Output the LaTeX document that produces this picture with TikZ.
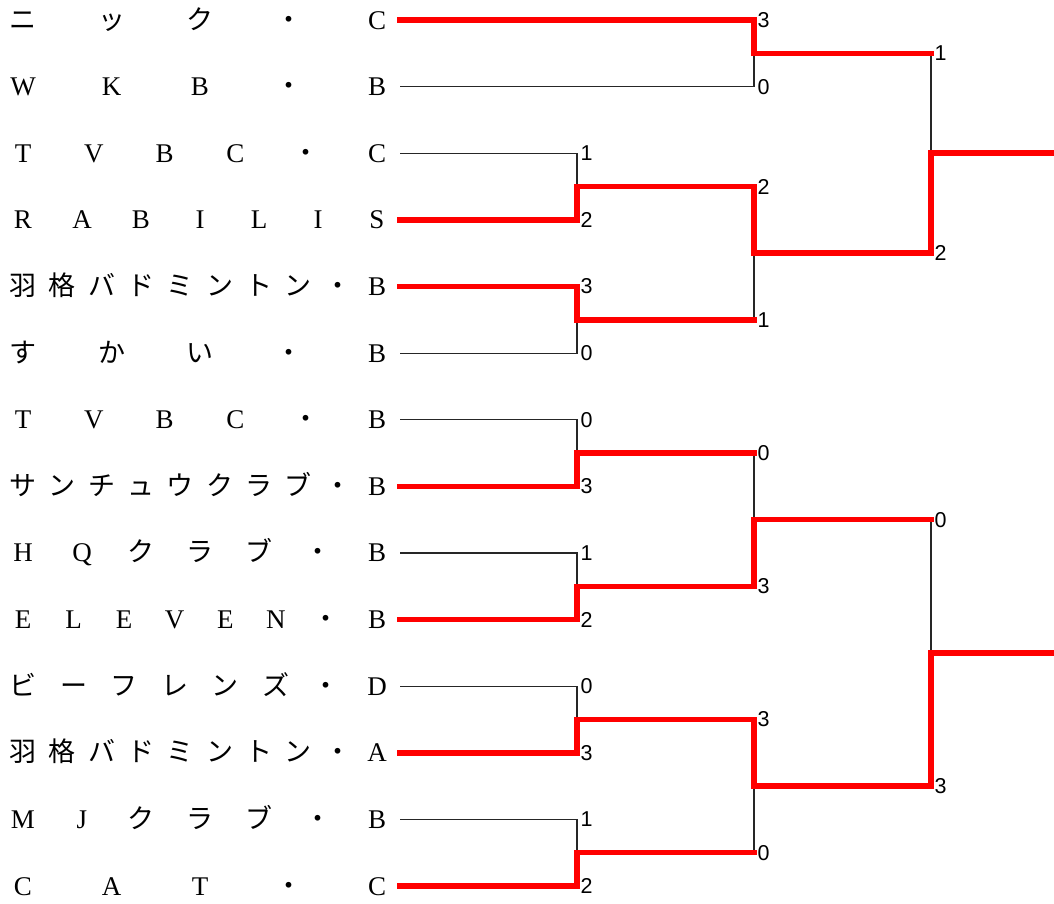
\documentclass[tikz,border=0pt]{standalone}
\usepackage{fontspec}
\setmainfont{Liberation Serif}
\setsansfont{Liberation Sans}
\newfontfamily\cjk{Noto Sans CJK JP}
\newcommand\J[1]{{\cjk #1}}
\tikzset{
  namechar/.style={anchor=base, inner sep=0pt, font=\fontsize{27}{27}\selectfont},
  score/.style={anchor=west, inner sep=1pt, xshift=2.5pt, font=\sffamily\fontsize{21.5}{21.5}\selectfont},
  win/.style={draw=red, line width=5.5pt, line cap=rect, line join=miter},
  lose/.style={draw=black!85, line width=1.1pt},
}
\newcommand\teamname[3]{%
  \foreach \c [count=\k from 0] in {#3}{
    \node[namechar] (n#1c\k) at ({23+\k*354/(#2-1)}, {29+66.62*#1}) {\c};
  }%
}
\begin{document}
\begin{tikzpicture}[x=1pt,y=-1pt]
\useasboundingbox (0,0) rectangle (1054,903);
% team names
\teamname{0}{5}{\J{ニ},\J{ッ},\J{ク},\J{・},C}
\teamname{1}{5}{W,K,B,\J{・},B}
\teamname{2}{6}{T,V,B,C,\J{・},C}
\teamname{3}{7}{R,A,B,I,L,I,S}
\teamname{4}{10}{\J{羽},\J{格},\J{バ},\J{ド},\J{ミ},\J{ン},\J{ト},\J{ン},\J{・},B}
\teamname{5}{5}{\J{す},\J{か},\J{い},\J{・},B}
\teamname{6}{6}{T,V,B,C,\J{・},B}
\teamname{7}{10}{\J{サ},\J{ン},\J{チ},\J{ュ},\J{ウ},\J{ク},\J{ラ},\J{ブ},\J{・},B}
\teamname{8}{7}{H,Q,\J{ク},\J{ラ},\J{ブ},\J{・},B}
\teamname{9}{8}{E,L,E,V,E,N,\J{・},B}
\teamname{10}{8}{\J{ビ},\J{ー},\J{フ},\J{レ},\J{ン},\J{ズ},\J{・},D}
\teamname{11}{10}{\J{羽},\J{格},\J{バ},\J{ド},\J{ミ},\J{ン},\J{ト},\J{ン},\J{・},A}
\teamname{12}{7}{M,J,\J{ク},\J{ラ},\J{ブ},\J{・},B}
\teamname{13}{5}{C,A,T,\J{・},C}
% line starts
\foreach \i in {0,...,13}{ \coordinate (L\i) at (400,{20+66.62*\i}); }
% match points
\coordinate (m01) at (754,53.3);
\coordinate (m23) at (577,186.6);
\coordinate (m45) at (577,319.8);
\coordinate (m67) at (577,453.0);
\coordinate (m89) at (577,586.3);
\coordinate (mAB) at (577,719.5);
\coordinate (mCD) at (577,852.7);
\coordinate (n1) at (754,253.2);
\coordinate (n2) at (754,519.7);
\coordinate (n3) at (754,786.1);
\coordinate (f1) at (931,153.2);
\coordinate (f2) at (931,652.9);
\coordinate (e1) at (1054,153.2);
\coordinate (e2) at (1054,652.9);
% losers (thin)
\draw[lose] (L1) -| (m01);
\draw[lose] (L2) -| (m23);
\draw[lose] (L5) -| (m45);
\draw[lose] (L6) -| (m67);
\draw[lose] (L8) -| (m89);
\draw[lose] (L10) -| (mAB);
\draw[lose] (L12) -| (mCD);
\draw[lose] (m45 -| n1) -- (n1);
\draw[lose] (m67 -| n2) -- (n2);
\draw[lose] (mCD -| n3) -- (n3);
\draw[lose] (m01 -| f1) -- (f1);
\draw[lose] (n2 -| f2) -- (f2);
% winners (red)
\draw[win] (L0) -| (m01);
\draw[win] (L3) -| (m23);
\draw[win] (L4) -| (m45);
\draw[win] (L7) -| (m67);
\draw[win] (L9) -| (m89);
\draw[win] (L11) -| (mAB);
\draw[win] (L13) -| (mCD);
\draw[win] (m23) -| (n1);
\draw[win] (m45) -- (m45 -| n1);
\draw[win] (m89) -| (n2);
\draw[win] (m67) -- (m67 -| n2);
\draw[win] (mAB) -| (n3);
\draw[win] (mCD) -- (mCD -| n3);
\draw[win] (n1) -| (f1) -- (e1);
\draw[win] (m01) -- (m01 -| f1);
\draw[win] (n3) -| (f2) -- (e2);
\draw[win] (n2) -- (n2 -| f2);
% scores round 1
\node[score] (s2) at (L2 -| m23) {1};
\node[score] (s3) at (L3 -| m23) {2};
\node[score] (s4) at (L4 -| m45) {3};
\node[score] (s5) at (L5 -| m45) {0};
\node[score] (s6) at (L6 -| m67) {0};
\node[score] (s7) at (L7 -| m67) {3};
\node[score] (s8) at (L8 -| m89) {1};
\node[score] (s9) at (L9 -| m89) {2};
\node[score] (s10) at (L10 -| mAB) {0};
\node[score] (s11) at (L11 -| mAB) {3};
\node[score] (s12) at (L12 -| mCD) {1};
\node[score] (s13) at (L13 -| mCD) {2};
% scores round 2
\node[score] (s0) at (L0 -| m01) {3};
\node[score] (s1) at (L1 -| m01) {0};
\node[score] (t23) at (m23 -| n1) {2};
\node[score] (t45) at (m45 -| n1) {1};
\node[score] (t67) at (m67 -| n2) {0};
\node[score] (t89) at (m89 -| n2) {3};
\node[score] (tAB) at (mAB -| n3) {3};
\node[score] (tCD) at (mCD -| n3) {0};
% scores round 3
\node[score] (u01) at (m01 -| f1) {1};
\node[score] (un1) at (n1 -| f1) {2};
\node[score] (un2) at (n2 -| f2) {0};
\node[score] (un3) at (n3 -| f2) {3};
\end{tikzpicture}
\end{document}
